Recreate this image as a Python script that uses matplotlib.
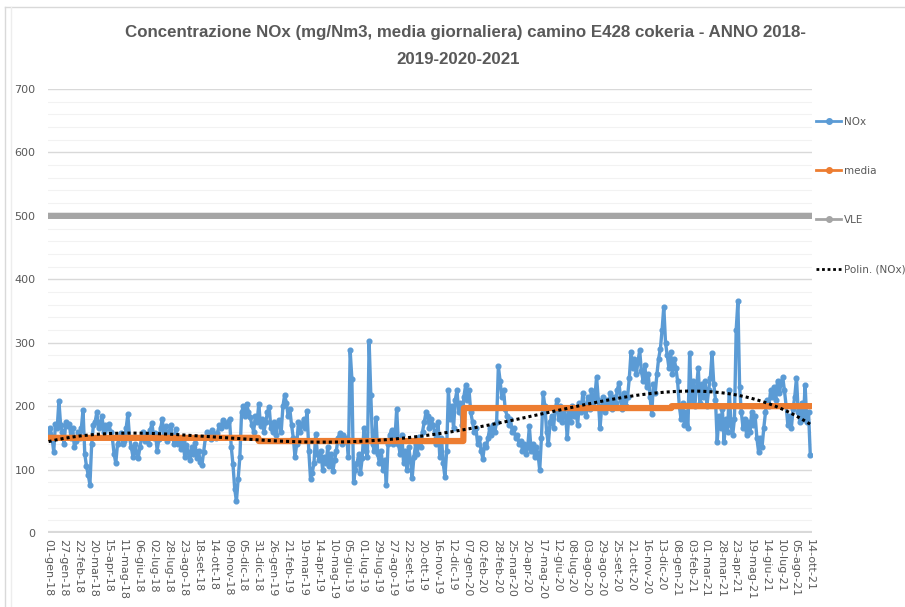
import numpy as np
import matplotlib.pyplot as plt
from matplotlib.lines import Line2D

# NOx giornaliero (mg/Nm3), un valore ogni 3 righe del foglio
nox = [158, 165, 150, 128, 172, 166, 208, 170, 160, 140, 175, 168, 172, 150, 165, 135, 145, 160, 150, 165,
       194, 125, 105, 92, 76, 140, 170, 175, 190, 165, 172, 184, 160, 170, 165, 172, 160, 150, 125, 110,
       140, 150, 158, 140, 145, 165, 187, 150, 135, 120, 140, 128, 118, 135, 150, 160, 145, 155, 140, 162,
       173, 150, 158, 130, 148, 165, 179, 155, 168, 145, 160, 170, 150, 140,
       164, 140, 150, 132, 145, 120, 138, 128, 115, 135, 125, 142, 118, 130, 112, 107, 128, 150, 160, 155,
       148, 162, 155, 150, 158, 170, 165, 178, 172, 168, 175, 179, 136, 108, 70, 50, 85, 120, 190, 200,
       185, 204, 190, 183, 170, 160, 185, 175, 204, 168, 180, 160, 175, 190, 199, 165, 160, 175, 155, 170,
       178, 160, 200, 218, 205, 185, 195, 170, 150, 120, 140, 175, 160, 170, 180, 165,
       193, 130, 85, 95, 110, 156, 125, 115, 130, 100, 120, 110, 135, 105, 125, 98, 115, 130, 150, 157,
       140, 155, 145, 150, 120, 288, 243, 80, 100, 110, 125, 95, 118, 165, 130, 120, 303, 217, 140, 130,
       182, 125, 110, 130, 100, 115, 76, 140, 155, 162, 140, 150, 195, 140, 125, 155, 110, 130, 100, 135,
       115, 87, 120, 140, 125, 152, 135, 160, 175, 190, 185, 165, 180, 170, 160,
       140, 175, 120, 150, 110, 88, 130, 225, 180, 200, 165, 210, 225, 190, 205, 170, 215, 233, 210, 225,
       190, 175, 160, 165, 140, 150, 130, 117, 140, 135, 150, 165, 155, 170, 160, 175, 263, 240, 215, 225,
       195, 185, 170, 180, 160, 165, 150, 155, 140, 145, 130, 140, 125, 135, 168, 130, 140, 120, 135, 125,
       99, 150, 220, 200, 160, 140, 175, 185, 165, 195, 210, 180, 200, 175, 195, 185,
       150, 190, 175, 200, 185, 195, 170, 205, 190, 220, 200, 185, 215, 195, 225, 205, 215, 246, 210, 165,
       200, 215, 190, 210, 200, 220, 195, 215, 205, 225, 237, 210, 195, 220, 200, 215, 245, 286, 260, 275,
       250, 270, 288, 255, 240, 265, 230, 250, 215, 188, 235, 220, 250, 275, 290, 320, 357, 300, 280, 260,
       285, 250, 275, 260, 240, 200, 180, 205, 170, 190, 165, 283, 210, 240, 200,
       230, 260, 205, 235, 215, 240, 200, 225, 245, 283, 235, 210, 144, 185, 165, 195, 144, 180, 160, 225,
       170, 155, 180, 320, 365, 230, 190, 165, 180, 155, 175, 160, 190, 170, 185, 150, 128, 150, 135, 165,
       190, 210, 200, 225, 215, 230, 210, 240, 220, 235, 246, 225, 200, 170, 185, 165, 195, 215, 245, 190,
       175, 205, 180, 233, 175, 190, 123]
passo = 3

# media annuale e numero di righe (giorni registrati) per anno
media_anno = [150, 145, 197, 200]
righe_anno = [366, 357, 362, 242]
vle = 500

etichette = ['01-gen-18', '27-gen-18', '22-feb-18', '20-mar-18', '15-apr-18', '11-mag-18', '06-giu-18',
             '02-lug-18', '28-lug-18', '23-ago-18', '18-set-18', '14-ott-18', '09-nov-18', '05-dic-18',
             '31-dic-18', '26-gen-19', '21-feb-19', '19-mar-19', '14-apr-19', '10-mag-19', '05-giu-19',
             '01-lug-19', '29-lug-19', '27-ago-19', '22-set-19', '20-ott-19', '16-nov-19', '12-dic-19',
             '07-gen-20', '02-feb-20', '28-feb-20', '25-mar-20', '20-apr-20', '17-mag-20', '12-giu-20',
             '08-lug-20', '03-ago-20', '29-ago-20', '25-set-20', '21-ott-20', '16-nov-20', '13-dic-20',
             '08-gen-21', '03-feb-21', '01-mar-21', '28-mar-21', '23-apr-21', '19-mag-21', '14-giu-21',
             '10-lug-21', '05-ago-21', '14-ott-21']
passo_etichette = 26

x = np.arange(len(nox)) * passo
n_righe = sum(righe_anno)
x_all = np.arange(n_righe)
media = np.repeat(media_anno, righe_anno)

# linea di tendenza polinomiale come in excel
coef = np.polyfit(x / x.max(), nox, 4)
trend = np.polyval(coef, x_all / x.max())

grigio = '#595959'
fig = plt.figure(figsize=(9.05, 6.07), dpi=100)
ax = fig.add_axes([48/905, 1-533/607, (812-48)/905, (533-89)/607])

ax.plot(x, nox, color='#5B9BD5', lw=2.4, marker='o', ms=3.4, zorder=3)
ax.plot(x_all, media, color='#ED7D31', lw=4.5, zorder=4)
ax.plot(x_all, np.full(n_righe, vle), color='#A5A5A5', lw=4.5, zorder=4)
ax.plot(x_all, trend, color='black', lw=2.2, ls=(0, (1, 1)), zorder=5)

ax.set_ylim(0, 700)
ax.set_xlim(-1, n_righe + 2)
ax.set_yticks(np.arange(0, 701, 100))
ax.set_yticks(np.arange(0, 701, 20), minor=True)
ax.grid(axis='y', which='major', color='#D9D9D9', lw=1)
ax.grid(axis='y', which='minor', color='#F2F2F2', lw=0.8)
ax.axhline(0, color='#D9D9D9', lw=3, zorder=2)
ax.set_axisbelow(True)
for s in ax.spines.values():
    s.set_visible(False)

pos = list(np.arange(len(etichette) - 1) * passo_etichette) + [n_righe - 1]
ax.set_xticks(pos)
ax.set_xticklabels(etichette, rotation=270)
ax.tick_params(axis='x', length=0, pad=4, labelsize=8, labelcolor=grigio)
ax.tick_params(axis='y', which='both', length=0, pad=9, labelsize=8, labelcolor=grigio)

handles = [Line2D([], [], color='#5B9BD5', lw=2, marker='o', ms=4),
           Line2D([], [], color='#ED7D31', lw=2, marker='o', ms=4),
           Line2D([], [], color='#A5A5A5', lw=2, marker='o', ms=4),
           Line2D([], [], color='black', lw=2, ls=(0, (1, 1)))]
fig.legend(handles, ['NOx', 'media', 'VLE', 'Polin. (NOx)'], loc='upper left',
           bbox_to_anchor=(816/905, 1-117/607), frameon=False, fontsize=7.5, labelcolor=grigio,
           labelspacing=3.75, handlelength=2.4, handletextpad=0.3, borderpad=0, borderaxespad=0)

fig.text(465/905, 1-33/607, 'Concentrazione NOx (mg/Nm3, media giornaliera) camino E428 cokeria - ANNO 2018-',
         ha='center', va='center', fontsize=12.2, color=grigio, fontweight='bold', family='Liberation Sans')
fig.text(458/905, 1-60/607, '2019-2020-2021', ha='center', va='center', fontsize=12.2,
         color=grigio, fontweight='bold', family='Liberation Sans')

# bordo dell'area del grafico
fig.add_artist(Line2D([5/905, 1], [1-7/607, 1-7/607], color='#D9D9D9', lw=1))
fig.add_artist(Line2D([5/905, 5/905], [0, 1-7/607], color='#D9D9D9', lw=1))
fig.add_artist(Line2D([11/905, 11/905], [0, 1-7/607], color='#EDEDED', lw=1))

fig.savefig('out.png', dpi=100)
